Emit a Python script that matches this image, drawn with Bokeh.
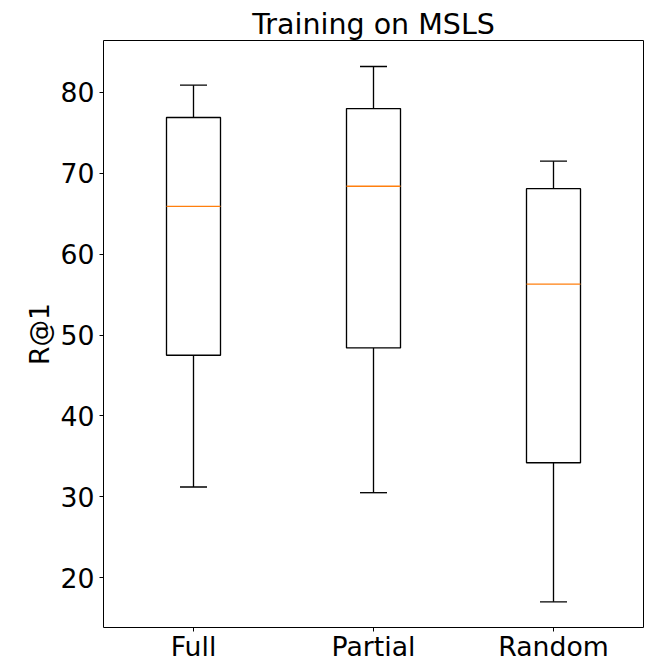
from bokeh.plotting import figure
from bokeh.models import Range1d, FixedTicker, ColumnDataSource
from bokeh.embed import file_html
from bokeh.resources import INLINE

categories = ["Full", "Partial", "Random"]
positions = [1, 2, 3]
whisker_low = [31.2, 30.5, 17.0]
q1 = [47.5, 48.4, 34.2]
median = [65.9, 68.4, 56.3]
q3 = [76.9, 78.0, 68.1]
whisker_high = [80.9, 83.2, 71.5]
y_ticks = [20, 30, 40, 50, 60, 70, 80]

box_w = 0.3
cap_w = 0.15
FONT = "DejaVu Sans"
LW = 1.33

src = ColumnDataSource(dict(
    x=positions,
    left=[p - box_w / 2 for p in positions],
    right=[p + box_w / 2 for p in positions],
    cl=[p - cap_w / 2 for p in positions],
    cr=[p + cap_w / 2 for p in positions],
    lo=whisker_low, q1=q1, med=median, q3=q3, hi=whisker_high,
))

p = figure(width=647, height=664, output_backend="svg", toolbar_location=None,
           x_range=Range1d(0.5, 3.5), y_range=Range1d(13.83, 86.42),
           min_border_left=103, min_border_right=4, min_border_top=40, min_border_bottom=36,
           title="Training on MSLS")
p.title.text_font = FONT
p.title.text_font_size = "28.5px"
p.title.text_font_style = "normal"
p.title.align = "center"
p.title.text_color = "black"
p.title.standoff = 0

p.grid.visible = False
p.outline_line_color = "black"
p.outline_line_width = 1
p.background_fill_color = "white"
p.border_fill_color = "white"

# whiskers
p.segment(x0="x", y0="lo", x1="x", y1="q1", source=src, line_color="black", line_width=LW)
p.segment(x0="x", y0="q3", x1="x", y1="hi", source=src, line_color="black", line_width=LW)
# caps
p.segment(x0="cl", y0="lo", x1="cr", y1="lo", source=src, line_color="black", line_width=LW)
p.segment(x0="cl", y0="hi", x1="cr", y1="hi", source=src, line_color="black", line_width=LW)
# boxes
p.quad(left="left", right="right", bottom="q1", top="q3", source=src,
       fill_color=None, line_color="black", line_width=LW)
# medians
p.segment(x0="left", y0="med", x1="right", y1="med", source=src, line_color="#ff7f0e", line_width=LW)

for ax in (p.xaxis[0], p.yaxis[0]):
    ax.axis_line_color = None
    ax.major_tick_line_color = "black"
    ax.major_tick_line_width = 1
    ax.major_tick_out = 4
    ax.major_tick_in = 0
    ax.minor_tick_line_color = None
    ax.major_label_text_font = FONT
    ax.major_label_text_font_size = "26.7px"
    ax.major_label_text_color = "black"

p.xaxis.major_label_standoff = -1
p.yaxis.major_label_standoff = 5
p.xaxis.ticker = FixedTicker(ticks=positions)
p.xaxis.major_label_overrides = {pos: c for pos, c in zip(positions, categories)}
p.yaxis.ticker = FixedTicker(ticks=y_ticks)
p.yaxis.axis_label = "R@1"
p.yaxis.axis_label_text_font = FONT
p.yaxis.axis_label_text_font_size = "26.7px"
p.yaxis.axis_label_text_font_style = "normal"
p.yaxis.axis_label_text_color = "black"
p.yaxis.axis_label_standoff = 3

open("out.html", "w").write(file_html(p, INLINE))
